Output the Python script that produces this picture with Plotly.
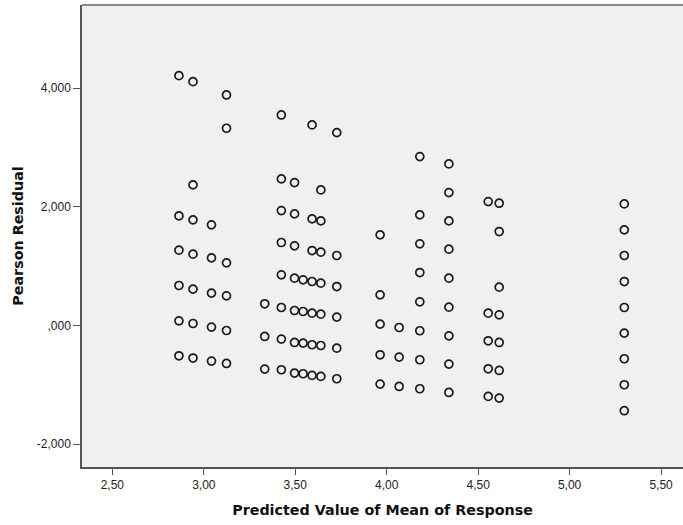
import plotly.graph_objects as go

# Predicted value (x) for each column of points
pred_a = 2.864; resid_a = [4.212, 1.848, 1.270, 0.674, 0.079, -0.511]
pred_b = 2.941; resid_b = [4.111, 2.371, 1.781, 1.203, 0.613, 0.034, -0.549]
pred_c = 3.042; resid_c = [1.697, 1.140, 0.546, -0.027, -0.600]
pred_d = 3.124; resid_d = [3.887, 3.326, 1.056, 0.500, -0.084, -0.640]
pred_e = 3.333; resid_e = [0.366, -0.185, -0.735]
pred_f = 3.424; resid_f = [3.550, 2.472, 1.938, 1.399, 0.854, 0.303, -0.229, -0.746]
pred_g = 3.496; resid_g = [2.410, 1.882, 1.343, 0.798, 0.253, -0.286, -0.803]
pred_h = 3.543; resid_h = [0.770, 0.236, -0.297, -0.814]
pred_i = 3.592; resid_i = [3.382, 1.798, 1.264, 0.742, 0.208, -0.325, -0.842]
pred_j = 3.640; resid_j = [2.286, 1.764, 1.236, 0.714, 0.191, -0.337, -0.859]
pred_k = 3.727; resid_k = [3.252, 1.180, 0.657, 0.142, -0.382, -0.898]
pred_l = 3.964; resid_l = [1.528, 0.517, 0.023, -0.494, -0.988]
pred_m = 4.068; resid_m = [-0.034, -0.533, -1.028]
pred_n = 4.181; resid_n = [2.848, 1.865, 1.377, 0.893, 0.399, -0.089, -0.578, -1.067]
pred_o = 4.340; resid_o = [2.724, 2.241, 1.764, 1.287, 0.798, 0.309, -0.174, -0.651, -1.129]
pred_p = 4.555; resid_p = [2.089, 0.208, -0.258, -0.730, -1.196]
pred_q = 4.615; resid_q = [2.062, 1.584, 0.646, 0.180, -0.286, -0.758, -1.224]
pred_r = 5.299; resid_r = [2.050, 1.612, 1.180, 0.741, 0.303, -0.129, -0.561, -0.999, -1.437]

x_tick_vals = [2.5, 3.0, 3.5, 4.0, 4.5, 5.0, 5.5]
x_tick_text = ["2,50", "3,00", "3,50", "4,00", "4,50", "5,00", "5,50"]
y_tick_vals = [-2, 0, 2, 4]
y_tick_text = ["-2,000", ",000", "2,000", "4,000"]

columns = [
    (pred_a, resid_a), (pred_b, resid_b), (pred_c, resid_c), (pred_d, resid_d),
    (pred_e, resid_e), (pred_f, resid_f), (pred_g, resid_g), (pred_h, resid_h),
    (pred_i, resid_i), (pred_j, resid_j), (pred_k, resid_k), (pred_l, resid_l),
    (pred_m, resid_m), (pred_n, resid_n), (pred_o, resid_o), (pred_p, resid_p),
    (pred_q, resid_q), (pred_r, resid_r),
]
xs, ys = [], []
for px, rs in columns:
    for r in rs:
        xs.append(px)
        ys.append(r)

fig = go.Figure()
fig.add_trace(go.Scatter(
    x=xs, y=ys, mode="markers",
    marker=dict(symbol="circle-open", size=8, color="#1a1a1a", line=dict(width=1.7)),
    showlegend=False, hoverinfo="x+y",
))

tick_font = "Liberation Sans, Arial, sans-serif"
title_font = "DejaVu Sans, Verdana, sans-serif"
fig.update_layout(
    width=683, height=525,
    margin=dict(l=82, r=0, t=5, b=58),
    paper_bgcolor="white",
    plot_bgcolor="#F0F0F0",
    font=dict(family=tick_font, size=12, color="#222"),
    xaxis=dict(
        range=[2.334, 5.62], tickvals=x_tick_vals, ticktext=x_tick_text,
        showgrid=False, zeroline=False, showline=True, linecolor="#555", linewidth=1.5,
        ticks="outside", ticklen=6, tickwidth=1.2, tickcolor="#555",
        title=dict(text="<b>Predicted Value of Mean of Response</b>",
                   font=dict(size=14.3, family=title_font, color="#111"), standoff=14),
    ),
    yaxis=dict(
        range=[-2.386, 5.404], tickvals=y_tick_vals, ticktext=y_tick_text,
        showgrid=False, zeroline=False, showline=True, linecolor="#555", linewidth=1.5,
        ticks="outside", ticklen=7, tickwidth=1.2, tickcolor="#555",
        title=dict(text="<b>Pearson Residual</b>",
                   font=dict(size=14.3, family=title_font, color="#111"), standoff=10),
    ),
    shapes=[dict(type="line", xref="paper", yref="paper", x0=0, x1=1, y0=1, y1=1,
                 line=dict(color="#888", width=2))],
)

fig.write_html("out.html", config={"displayModeBar": False},
               post_script="document.body.style.margin='0';")
